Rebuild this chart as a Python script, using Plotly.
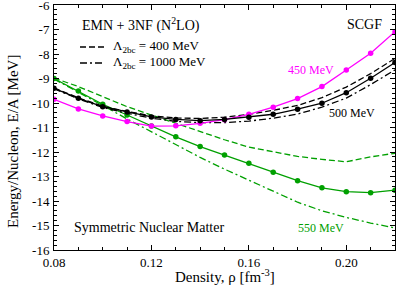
import plotly.graph_objects as go

density = [0.08, 0.09, 0.10, 0.11, 0.12, 0.13, 0.14, 0.15, 0.16, 0.17, 0.18, 0.19, 0.20, 0.21, 0.22]

# 450 MeV (magenta, solid)
e450 = [-9.85, -10.24, -10.53, -10.76, -10.94, -10.93, -10.83, -10.68, -10.46, -10.17, -9.82, -9.33, -8.65, -7.97, -7.09]

# 500 MeV (black)
e500_solid = [-9.40, -9.81, -10.15, -10.37, -10.57, -10.67, -10.72, -10.67, -10.58, -10.46, -10.25, -10.01, -9.58, -8.99, -8.35]
e500_400 = [-9.38, -9.79, -10.13, -10.35, -10.52, -10.61, -10.63, -10.58, -10.46, -10.30, -10.10, -9.78, -9.35, -8.80, -8.18]
e500_1000 = [-9.42, -9.83, -10.18, -10.42, -10.62, -10.75, -10.80, -10.80, -10.74, -10.62, -10.45, -10.17, -9.80, -9.25, -8.65]

# 550 MeV (green)
e550_solid = [-9.00, -9.51, -10.05, -10.49, -10.94, -11.38, -11.78, -12.12, -12.46, -12.83, -13.17, -13.46, -13.62, -13.66, -13.56]
e550_400 = [-8.98, -9.33, -9.74, -10.15, -10.49, -10.83, -11.17, -11.50, -11.80, -12.00, -12.18, -12.30, -12.40, -12.20, -12.05]
e550_1000 = [-9.02, -9.55, -10.10, -10.65, -11.18, -11.72, -12.22, -12.70, -13.15, -13.60, -14.05, -14.40, -14.67, -14.90, -15.10]

x_ticks = [0.08, 0.12, 0.16, 0.20]
x_tick_labels = ["0.08", "0.12", "0.16", "0.20"]
y_ticks = [-16, -15, -14, -13, -12, -11, -10, -9, -8, -7, -6]
y_tick_labels = ["-16", "-15", "-14", "-13", "-12", "-11", "-10", "-9", "-8", "-7", "-6"]

MAG = "#ff00ff"
BLK = "#000000"
GRN = "#00a000"
FONT = "Liberation Serif"
DASH = "6px,3px"
DASHDOT = "7px,3px,2px,3px"

fig = go.Figure()

def add(y, color, dash, markers):
    fig.add_trace(go.Scatter(
        x=density, y=y,
        mode="lines+markers" if markers else "lines",
        line=dict(color=color, width=1.3, dash=dash),
        marker=dict(color=color, size=5.5, symbol="circle"),
        showlegend=False, hoverinfo="skip"))

add(e550_400, GRN, DASH, False)
add(e550_1000, GRN, DASHDOT, False)
add(e550_solid, GRN, "solid", True)
add(e500_400, BLK, DASH, False)
add(e500_1000, BLK, DASHDOT, False)
add(e450, MAG, "solid", True)
add(e500_solid, BLK, "solid", True)

axis_common = dict(
    showgrid=False, zeroline=False, showline=True, linecolor="black", linewidth=1,
    mirror="allticks", ticks="inside", ticklen=5, tickwidth=1, tickcolor="black",
    tickfont=dict(family=FONT, size=13, color="black"), automargin=False,
    ticklabeloverflow="allow",
)

fig.update_xaxes(
    range=[0.08, 0.22], tickvals=x_ticks, ticktext=x_tick_labels,
    minor=dict(dtick=0.01, tick0=0.08, ticks="inside", ticklen=3, tickcolor="black"),
    ticklabelstandoff=0,
    **axis_common)
fig.update_yaxes(
    range=[-16, -6], tickvals=y_ticks, ticktext=y_tick_labels,
    minor=dict(dtick=0.2, tick0=-16, ticks="inside", ticklen=3, tickcolor="black"),
    ticklabelstandoff=1,
    **axis_common)

def px2paper(px, py):
    return (px - 54) / 341.0, (250 - py) / 245.0

annots = []
def txt(s, px, py, color="black", size=13, anchor="left", angle=0):
    x, y = px2paper(px, py)
    annots.append(dict(text=s, x=x, y=y, xref="paper", yref="paper", showarrow=False,
                       xanchor=anchor, yanchor="middle", textangle=angle,
                       font=dict(family=FONT, size=size, color=color)))

txt("EMN + 3NF (N<sup>2</sup>LO)", 80, 25, size=14)
txt("Λ<sub>2bc</sub> = 400 MeV", 111, 47, size=13)
txt("Λ<sub>2bc</sub> = 1000 MeV", 111, 63, size=13)
txt("SCGF", 345, 25, size=14)
txt("450 MeV", 286, 70, color=MAG, size=12)
txt("500 MeV", 327, 113, size=12)
txt("550 MeV", 296, 228, color=GRN, size=12)
txt("Symmetric Nuclear Matter", 72, 227, size=14)
txt("Density, ρ [fm<sup>-3</sup>]", 225, 276, size=15, anchor="center")
txt("Energy/Nucleon, E/A [MeV]", 13, 142, size=15, anchor="center", angle=-90)

shapes = []
for (py, dash) in [(47, DASH), (63, DASHDOT)]:
    x0, y0 = px2paper(80, py)
    x1, _ = px2paper(104, py)
    shapes.append(dict(type="line", xref="paper", yref="paper", x0=x0, x1=x1, y0=y0, y1=y0,
                       line=dict(color="black", width=1.3, dash=dash)))

fig.update_layout(
    width=399, height=288,
    margin=dict(l=54, r=4, t=5, b=38, autoexpand=False),
    plot_bgcolor="white", paper_bgcolor="white",
    font=dict(family=FONT, color="black"),
    annotations=annots, shapes=shapes,
)

fig.write_html("out.html", config={"displayModeBar": False},
               post_script="document.body.style.margin='0';document.body.style.padding='0';")
